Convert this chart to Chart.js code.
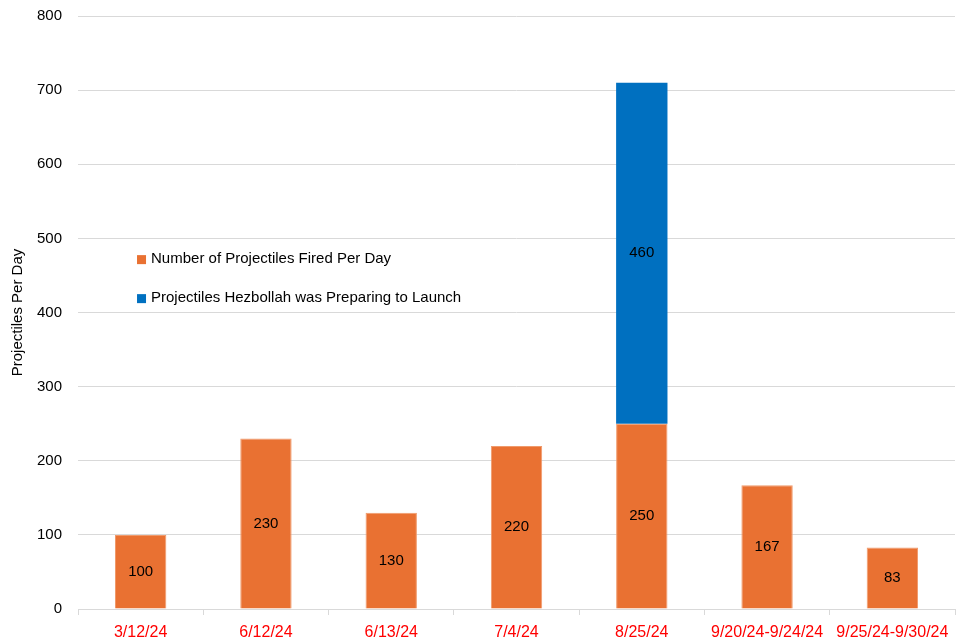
<!DOCTYPE html>
<html>
<head>
<meta charset="utf-8">
<script src="https://cdn.jsdelivr.net/npm/chart.js@4.4.1/dist/chart.umd.min.js"></script>
<style>
  html, body { margin: 0; padding: 0; background: #fff; }
  #wrap { width: 956px; height: 638px; }
</style>
</head>
<body>
<div id="wrap"><canvas id="Projectiles"></canvas></div>
<script>
var categories = ["3/12/24", "6/12/24", "6/13/24", "7/4/24", "8/25/24", "9/20/24-9/24/24", "9/25/24-9/30/24"];
var firedPerDay = [100, 230, 130, 220, 250, 167, 83];
var preparing = [null, null, null, null, 460, null, null];
var yTicks = [0, 100, 200, 300, 400, 500, 600, 700, 800];

var FONT = "'Liberation Sans', Arial, sans-serif";

// values written in the middle of each bar segment
var barLabels = {
    id: 'barLabels',
    afterDatasetsDraw: function (chart) {
        var ctx = chart.ctx;
        ctx.save();
        ctx.font = "15px " + FONT;
        ctx.fillStyle = "#000";
        ctx.textAlign = "center";
        ctx.textBaseline = "middle";
        chart.data.datasets.forEach(function (ds, i) {
            chart.getDatasetMeta(i).data.forEach(function (bar, j) {
                if (ds.data[j] == null) return;
                var mid = (bar.y + bar.base) / 2;
                ctx.fillText(ds.data[j], bar.x, mid);
            });
        });
        ctx.restore();
    }
};

// legend sitting inside the plot area, left side
var innerLegend = {
    id: 'innerLegend',
    afterDraw: function (chart) {
        var ctx = chart.ctx;
        var x = chart.chartArea.left + 60;
        var y = chart.scales.y.getPixelForValue(472);
        ctx.save();
        ctx.font = "15px " + FONT;
        ctx.textBaseline = "middle";
        chart.data.datasets.forEach(function (ds, i) {
            var yy = y + i * 39;
            ctx.fillStyle = ds.backgroundColor;
            ctx.fillRect(x - 1, yy - 4, 9, 9);
            ctx.fillStyle = "#000";
            ctx.fillText(ds.label, x + 13, yy);
        });
        ctx.restore();
    }
};

new Chart(document.getElementById('Projectiles'), {
    type: 'bar',
    data: {
        labels: categories,
        datasets: [
            {
                label: "Number of Projectiles Fired Per Day",
                backgroundColor: "#E97132",
                borderColor: "#F09A6B",
                borderWidth: 1,
                data: firedPerDay
            },
            {
                label: "Projectiles Hezbollah was Preparing to Launch",
                backgroundColor: "#0070C0",
                borderWidth: 0,
                data: preparing
            }
        ]
    },
    options: {
        responsive: true,
        maintainAspectRatio: false,
        animation: false,
        layout: { padding: { top: 16, right: 1, left: 0, bottom: -13 } },
        datasets: {
            bar: { categoryPercentage: 1, barPercentage: 0.41 }
        },
        plugins: {
            legend: { display: false },
            tooltip: { enabled: false }
        },
        scales: {
            x: {
                stacked: true,
                afterFit: function (axis) {
                    // let the last long label run to the edge like the original
                    axis.paddingRight = 0;
                },
                grid: { offset: true, drawOnChartArea: false, drawTicks: true, tickLength: 6, color: "#d9d9d9" },
                border: { color: "#d9d9d9", width: 1 },
                ticks: { color: "#ff0000", font: { family: FONT, size: 16, lineHeight: 1 }, padding: 10, maxRotation: 0, autoSkip: false }
            },
            y: {
                stacked: true,
                min: 0,
                max: 800,
                afterBuildTicks: function (axis) {
                    axis.ticks = yTicks.map(function (v) { return { value: v }; });
                },
                grid: { color: "#d9d9d9", drawTicks: true, tickLength: 14, tickColor: "rgba(0,0,0,0)" },
                border: { display: false },
                ticks: { color: "#000", font: { family: FONT, size: 15 }, padding: 2 },
                title: { display: true, text: "Projectiles Per Day", color: "#000", font: { family: FONT, size: 15 }, padding: { top: 9, bottom: 8 } }
            }
        }
    },
    plugins: [barLabels, innerLegend]
});
</script>
</body>
</html>
